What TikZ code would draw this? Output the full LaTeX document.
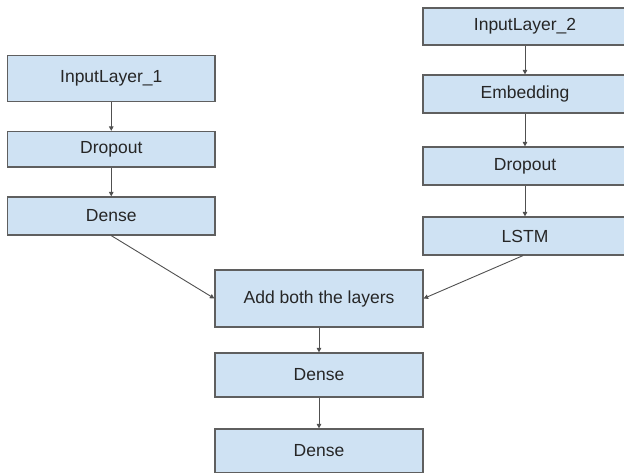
\documentclass[tikz,border=0pt]{standalone}
\usepackage{fontspec}
\setmainfont{Liberation Sans}
\usetikzlibrary{arrows.meta}
\definecolor{boxfill}{HTML}{CFE2F3}
\definecolor{boxline}{HTML}{5F5F5F}
\definecolor{txt}{HTML}{262626}
\definecolor{arr}{HTML}{505050}
\tikzset{
  layerbox/.style={draw=boxline, line width=1.2pt, fill=boxfill, text=txt,
    font=\fontsize{17.5}{20}\selectfont, inner sep=0pt},
  conn/.style={draw=arr, line width=0.9pt, -{Triangle[length=4.5pt,width=4.5pt]}},
}
\newcommand{\lbox}[6]{% name, x1, y1, x2, y2, text
  \node[layerbox, minimum width={#4-#2}, minimum height={#5-#3}] (#1) at ({(#2+#4)/2},{(#3+#5)/2}) {#6};}
\begin{document}
\begin{tikzpicture}[x=1pt,y=-1pt]
\useasboundingbox (0,0) rectangle (624,474);
\clip (0,0) rectangle (624,474);
\lbox{inA}{7.5}{55.5}{215}{101.5}{InputLayer\_1}
\lbox{dropA}{7.5}{131.5}{215}{167}{Dropout}
\lbox{denseA}{7.5}{197}{215}{235}{Dense}
\lbox{inB}{423}{8}{627}{45}{InputLayer\_2}
\lbox{emb}{423}{75}{627}{113}{Embedding}
\lbox{dropB}{423}{147}{627}{185}{Dropout}
\lbox{lstm}{423}{217}{627}{255}{LSTM}
\lbox{add}{215}{270}{423}{327}{Add both the layers}
\lbox{denseB}{215}{353}{423}{397}{Dense}
\lbox{denseC}{215}{429}{423}{472.5}{Dense}
\draw[conn] (inA) -- (dropA);
\draw[conn] (dropA) -- (denseA);
\draw[conn] (inB) -- (emb);
\draw[conn] (emb) -- (dropB);
\draw[conn] (dropB) -- (lstm);
\draw[conn] (denseA.south) -- (add.west);
\draw[conn] ([xshift=-2pt]lstm.south) -- (add.east);
\draw[conn] (add) -- (denseB);
\draw[conn] (denseB) -- (denseC);
\end{tikzpicture}
\end{document}
